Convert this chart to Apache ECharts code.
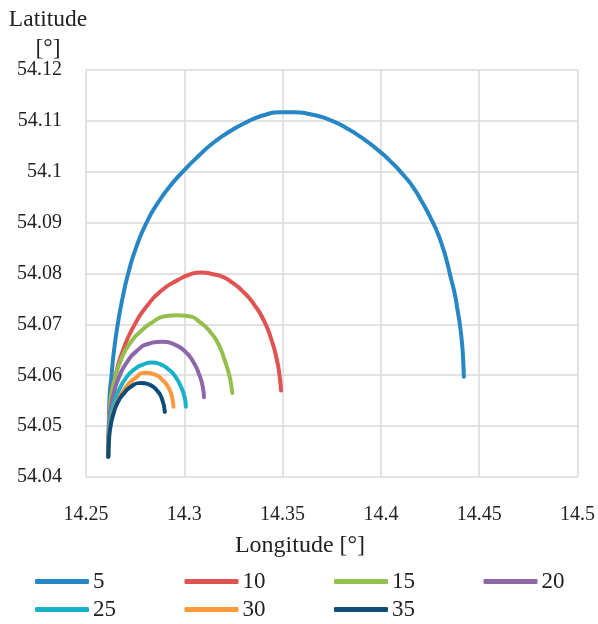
<!DOCTYPE html>
<html>
<head>
<meta charset="utf-8">
<script src="https://cdn.jsdelivr.net/npm/echarts@6/dist/echarts.min.js"></script>
<style>
  html, body { margin: 0; padding: 0; background: #fff; }
  #chart { width: 598px; height: 624px; }
</style>
</head>
<body>
<div id="chart"></div>
<script>
// Turning trajectories [longitude, latitude], one array per rudder angle
const track5 = [
    [14.2613, 54.0440], [14.2616, 54.0500], [14.2619, 54.0551], [14.2630, 54.0601],
    [14.2643, 54.0650], [14.2661, 54.0699], [14.2684, 54.0748], [14.2714, 54.0799],
    [14.2754, 54.0850], [14.2808, 54.0900], [14.2866, 54.0939], [14.2932, 54.0974],
    [14.3000, 54.1003], [14.3067, 54.1029], [14.3151, 54.1058], [14.3235, 54.1080],
    [14.3320, 54.1098], [14.3404, 54.1111], [14.3489, 54.1117], [14.3556, 54.1117],
    [14.3641, 54.1113], [14.3727, 54.1104], [14.3820, 54.1087], [14.3906, 54.1066],
    [14.3990, 54.1041], [14.4056, 54.1018], [14.4111, 54.0995], [14.4165, 54.0969],
    [14.4213, 54.0938], [14.4253, 54.0909], [14.4289, 54.0879], [14.4314, 54.0852],
    [14.4334, 54.0826], [14.4354, 54.0794], [14.4375, 54.0761], [14.4390, 54.0728],
    [14.4403, 54.0696], [14.4412, 54.0665], [14.4417, 54.0640], [14.4422, 54.0597]
];
const track10 = [
    [14.2613, 54.0440], [14.2616, 54.0493], [14.2625, 54.0552], [14.2651, 54.0601],
    [14.2689, 54.0650], [14.2744, 54.0697], [14.2810, 54.0736], [14.2886, 54.0767],
    [14.2972, 54.0788], [14.3028, 54.0798], [14.3084, 54.0802], [14.3154, 54.0798],
    [14.3192, 54.0794], [14.3230, 54.0786], [14.3303, 54.0763], [14.3357, 54.0738],
    [14.3403, 54.0709], [14.3443, 54.0670], [14.3471, 54.0630], [14.3486, 54.0594],
    [14.3492, 54.0570]
];
const track15 = [
    [14.2613, 54.0440], [14.2616, 54.0493], [14.2624, 54.0546], [14.2646, 54.0591],
    [14.2678, 54.0630], [14.2724, 54.0663], [14.2780, 54.0687], [14.2841, 54.0705],
    [14.2901, 54.0716], [14.2962, 54.0718], [14.3023, 54.0716], [14.3084, 54.0703],
    [14.3134, 54.0684], [14.3175, 54.0660], [14.3205, 54.0630], [14.3228, 54.0601],
    [14.3241, 54.0575], [14.3244, 54.0565]
];
const track20 = [
    [14.2613, 54.0440], [14.2616, 54.0489], [14.2625, 54.0532], [14.2643, 54.0567],
    [14.2671, 54.0599], [14.2709, 54.0626], [14.2759, 54.0648], [14.2820, 54.0662],
    [14.2886, 54.0666], [14.2947, 54.0661], [14.3003, 54.0647], [14.3046, 54.0626],
    [14.3076, 54.0601], [14.3094, 54.0577], [14.3100, 54.0557]
];
const track25 = [
    [14.2613, 54.0440], [14.2616, 54.0481], [14.2625, 54.0516], [14.2643, 54.0546],
    [14.2668, 54.0571], [14.2704, 54.0595], [14.2744, 54.0611], [14.2790, 54.0621],
    [14.2835, 54.0625], [14.2881, 54.0621], [14.2922, 54.0611], [14.2957, 54.0596],
    [14.2982, 54.0578], [14.3000, 54.0559], [14.3008, 54.0538]
];
const track30 = [
    [14.2613, 54.0440], [14.2616, 54.0473], [14.2625, 54.0504], [14.2643, 54.0532],
    [14.2668, 54.0555], [14.2704, 54.0577], [14.2749, 54.0594], [14.2800, 54.0605],
    [14.2851, 54.0601], [14.2891, 54.0590], [14.2922, 54.0574], [14.2938, 54.0556],
    [14.2945, 54.0538]
];
const track35 = [
    [14.2613, 54.0440], [14.2617, 54.0473], [14.2625, 54.0500], [14.2641, 54.0526],
    [14.2663, 54.0548], [14.2694, 54.0565], [14.2734, 54.0579], [14.2780, 54.0585],
    [14.2825, 54.0581], [14.2861, 54.0570], [14.2886, 54.0554], [14.2901, 54.0528]
];

const angles = ['5', '10', '15', '20', '25', '30', '35'];
const tracks = [track5, track10, track15, track20, track25, track30, track35];
const colors = ['#2786c4', '#e05353', '#93bf4e', '#8d67aa', '#17b2c9', '#fd983c', '#0e4d78'];

// legend grid: 4 columns, 2 rows
const legendLeft = [35, 35 + 149.5, 35 + 299, 35 + 448.5];
const legendTop = [570, 598];

const chart = echarts.init(document.getElementById('chart'));
const serif = '"Liberation Serif", "Times New Roman", serif';

const option = {
    animation: false,
    color: colors,
    textStyle: { fontFamily: serif },
    title: [
        {
            text: 'Latitude\n[°]',
            left: 43, top: 0, textAlign: 'center',
            textStyle: { fontFamily: serif, fontSize: 23.5, fontWeight: 'normal', color: '#222', lineHeight: 29 }
        },
        {
            text: 'Longitude [°]',
            left: 295, top: 529, textAlign: 'center',
            textStyle: { fontFamily: serif, fontSize: 24, fontWeight: 'normal', color: '#222' }
        }
    ],
    // one legend per item so the entries sit on a fixed grid
    legend: angles.map((name, i) => ({
        left: legendLeft[i % 4],
        top: legendTop[Math.floor(i / 4)],
        itemWidth: 54,
        itemHeight: 5,
        icon: 'roundRect',
        padding: 0,
        data: [name],
        textStyle: { fontFamily: serif, fontSize: 23, color: '#222', padding: [0, 0, 0, -1] }
    })),
    grid: { left: 86, right: 20, top: 70, bottom: 147 },
    xAxis: {
        type: 'value',
        min: 14.25,
        max: 14.5,
        interval: 0.05,
        axisLine: { show: false },
        axisTick: { show: false },
        splitLine: { lineStyle: { color: '#d9d9d9', width: 1.5 } },
        axisLabel: { fontFamily: serif, fontSize: 20, color: '#222', margin: 28 }
    },
    yAxis: {
        type: 'value',
        min: 54.04,
        max: 54.12,
        interval: 0.01,
        axisLine: { show: false },
        axisTick: { show: false },
        splitLine: { lineStyle: { color: '#d9d9d9', width: 1.5 } },
        axisLabel: { fontFamily: serif, fontSize: 20, color: '#222', margin: 24 }
    },
    series: angles.map((name, i) => ({
        name: name,
        type: 'line',
        data: tracks[i],
        smooth: 0.6,
        showSymbol: false,
        symbol: 'none',
        lineStyle: { width: 4, color: colors[i], cap: 'round' }
    }))
};

chart.setOption(option);
</script>
</body>
</html>
